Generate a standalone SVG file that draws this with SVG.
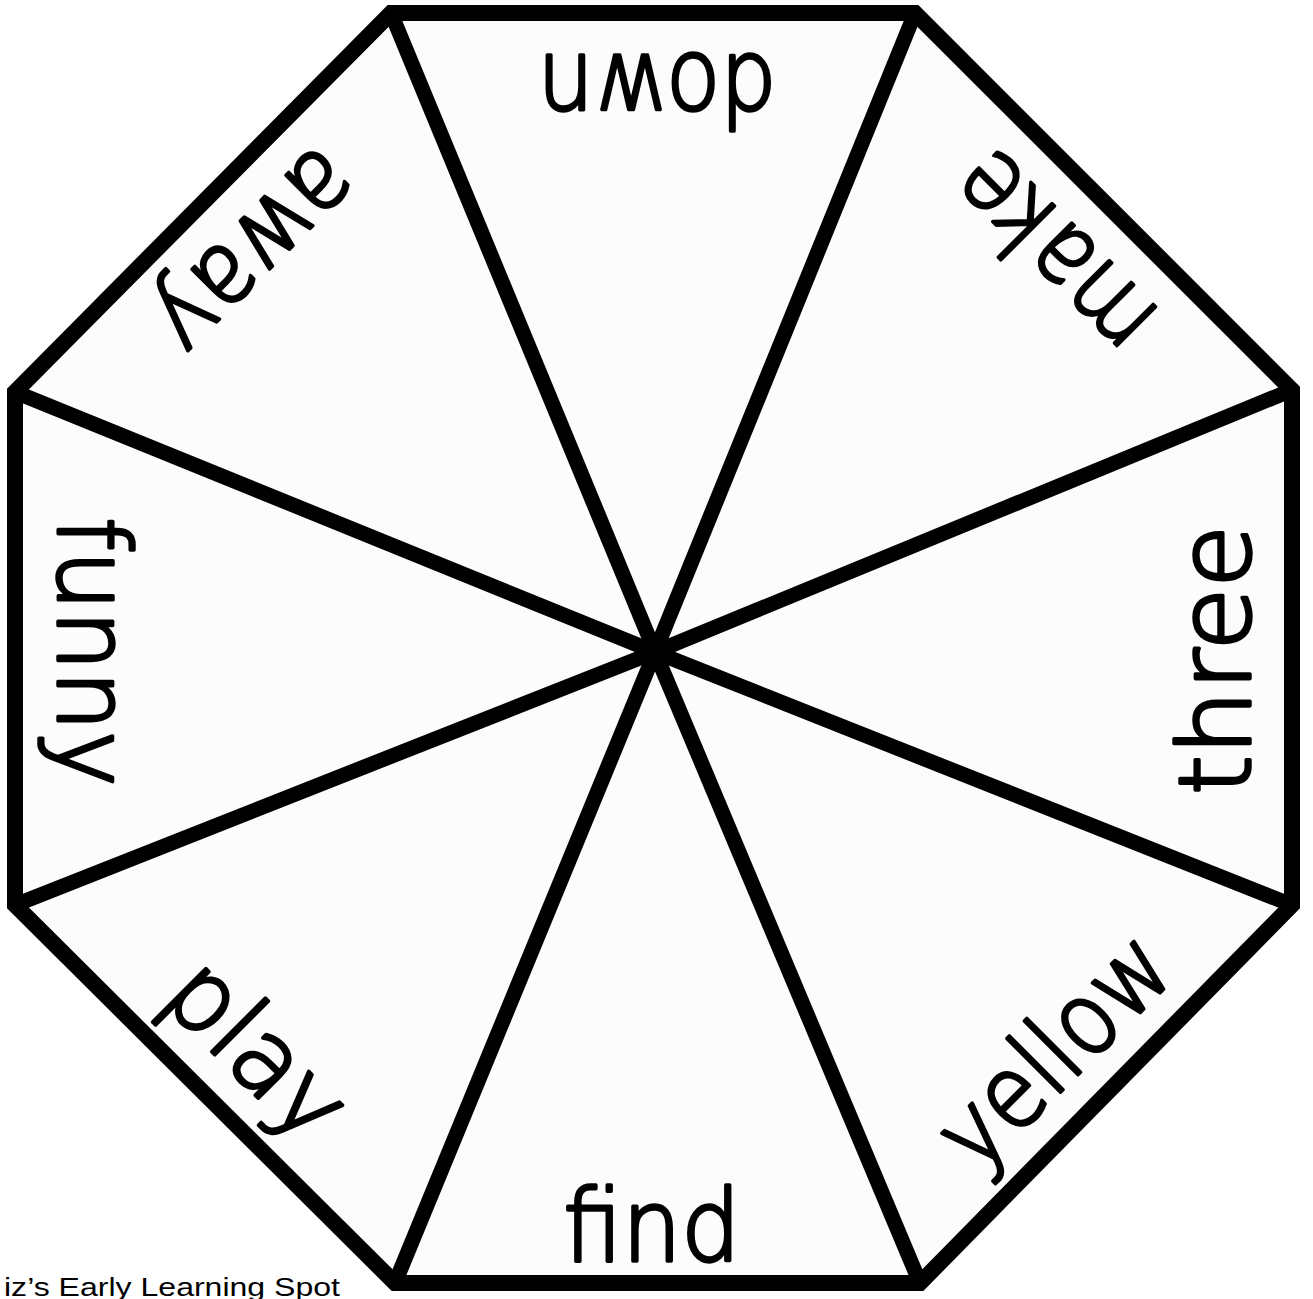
<svg xmlns="http://www.w3.org/2000/svg" width="1313" height="1299" viewBox="0 0 1313 1299">
<style>
.word{font-family:"DejaVu Sans","Liberation Sans",sans-serif;font-weight:200;font-size:100px;fill:#000;stroke:#000;stroke-width:3.5;stroke-linejoin:round;stroke-linecap:round;text-anchor:middle}
.outline{fill:#fcfcfc;stroke:#000;stroke-width:16;stroke-linejoin:miter}
.spoke{stroke:#000;stroke-width:15;stroke-linecap:round;fill:none}
.credit{font-family:"Liberation Sans","DejaVu Sans",sans-serif;font-size:25px;fill:#000}
</style>
<rect width="1313" height="1299" fill="#fff"/>
<g id="octagon">
<polygon class="outline" points="391,13 915,13 1292,390 1292,905 920,1283 395,1283 15,905 15,392"/>
</g>
<g id="connectors">
<line class="spoke" x1="391" y1="13" x2="655" y2="652"/>
<line class="spoke" x1="915" y1="13" x2="655" y2="652"/>
<line class="spoke" x1="1292" y1="390" x2="655" y2="652"/>
<line class="spoke" x1="1292" y1="905" x2="655" y2="652"/>
<line class="spoke" x1="920" y1="1283" x2="655" y2="652"/>
<line class="spoke" x1="395" y1="1283" x2="655" y2="652"/>
<line class="spoke" x1="15" y1="905" x2="655" y2="652"/>
<line class="spoke" x1="15" y1="392" x2="655" y2="652"/>
</g>
<g id="word-find"><text class="word" transform="translate(652,652) rotate(0) translate(0,609)" textLength="177" lengthAdjust="spacingAndGlyphs">find</text></g>
<g id="word-yellow"><text class="word" transform="translate(655,652) rotate(-45) translate(0,598)" textLength="285" lengthAdjust="spacingAndGlyphs">yellow</text></g>
<g id="word-three"><text class="word" transform="translate(655,660) rotate(-90) translate(0,595)" textLength="270" lengthAdjust="spacingAndGlyphs">three</text></g>
<g id="word-make"><text class="word" transform="translate(655,652) rotate(-135) translate(0,598)" textLength="240" lengthAdjust="spacingAndGlyphs">make</text></g>
<g id="word-down"><text class="word" transform="translate(657,652) rotate(180) translate(0,597)" textLength="239" lengthAdjust="spacingAndGlyphs">down</text></g>
<g id="word-away"><text class="word" transform="translate(655,652) rotate(135) translate(0,598)" textLength="245" lengthAdjust="spacingAndGlyphs">away</text></g>
<g id="word-funny"><text class="word" transform="translate(655,652) rotate(90) translate(0,597)" textLength="270" lengthAdjust="spacingAndGlyphs">funny</text></g>
<g id="word-play"><text class="word" transform="translate(655,652) rotate(45) translate(0,596)" textLength="210" lengthAdjust="spacingAndGlyphs">play</text></g>
<g id="credit"><text class="credit" x="4" y="1296" textLength="336" lengthAdjust="spacingAndGlyphs">iz’s Early Learning Spot</text></g>
</svg>
